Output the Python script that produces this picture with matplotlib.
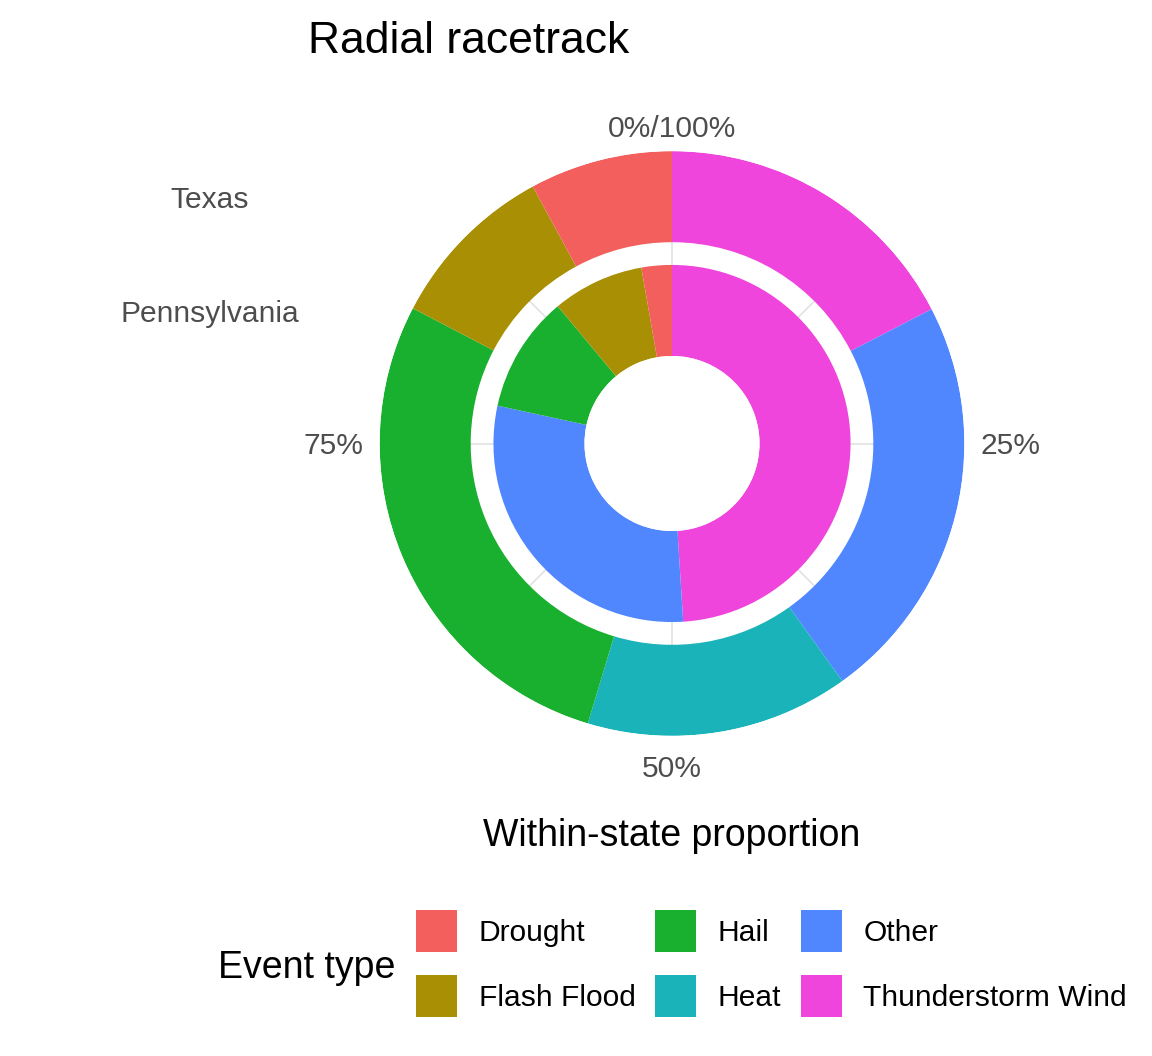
import numpy as np
import matplotlib
matplotlib.use("Agg")
import matplotlib.pyplot as plt
from matplotlib.patches import Patch
from matplotlib.transforms import offset_copy

plt.rcParams['font.family'] = ['Liberation Sans', 'DejaVu Sans']

# data: within-state share of events (%), stacked clockwise from 12 o'clock
event_types = ["Drought", "Flash Flood", "Hail", "Heat", "Other", "Thunderstorm Wind"]
stack_order = ["Thunderstorm Wind", "Other", "Heat", "Hail", "Flash Flood", "Drought"]
states = ["Pennsylvania", "Texas"]
texas = {"Thunderstorm Wind": 17.4, "Other": 22.7, "Heat": 14.55,
         "Hail": 28.0, "Flash Flood": 9.45, "Drought": 7.9}
pennsylvania = {"Thunderstorm Wind": 49.0, "Other": 29.4, "Heat": 0.0,
                "Hail": 10.55, "Flash Flood": 8.3, "Drought": 2.75}
theta_breaks = [0, 25, 50, 75]
theta_labels = ["0%/100%", "25%", "50%", "75%"]

colors = {"Drought": "#F35F5D", "Flash Flood": "#A88F04", "Hail": "#19B02F",
          "Heat": "#19B3B9", "Other": "#5087FE", "Thunderstorm Wind": "#EF45DC"}

W, H = 1152, 1056
fig = plt.figure(figsize=(W / 100, H / 100), dpi=100)

# polar panel geometry (pixels)
cx, cy = 672, 443.5
px_per_unit = 113.8
r0 = -0.169
rmax = 2.4
R = (rmax - r0) * px_per_unit
ax = fig.add_axes([(cx - R) / W, (H - cy - R) / H, 2 * R / W, 2 * R / H],
                  projection='polar')
ax.set_theta_zero_location('N')
ax.set_theta_direction(-1)
ax.set_rorigin(r0)
ax.set_ylim(0.6, rmax)

bar_w = 0.8
for pos, shares in zip([1, 2], [pennsylvania, texas]):
    vals = np.array([shares[k] for k in stack_order])
    starts = np.concatenate([[0], np.cumsum(vals)[:-1]])
    for k, s, v in zip(stack_order, starts, vals):
        if v <= 0:
            continue
        ax.bar(np.deg2rad(s * 3.6), bar_w, width=np.deg2rad(v * 3.6),
               bottom=pos - bar_w / 2, align='edge', color=colors[k],
               linewidth=0, zorder=2)

ax.set_xticks(np.deg2rad(np.arange(0, 360, 45)))
ax.set_xticklabels([])
ax.set_yticks([])
ax.xaxis.grid(True, color='#E4E4E4', linewidth=1.3)
ax.yaxis.grid(False)
ax.set_axisbelow(True)
ax.set_frame_on(False)
ax.tick_params(length=0)

# theta labels
r_lab = r0 + 309 / px_per_unit
lab_tr = offset_copy(ax.transData, fig=fig, x=0, y=-2.5, units='dots')
aligns = [('center', 'baseline'), ('left', 'center'), ('center', 'top'), ('right', 'center')]
for b, lab, (ha, va) in zip(theta_breaks, theta_labels, aligns):
    ax.text(np.deg2rad(b * 3.6), r_lab, lab, ha=ha, va=va, fontsize=21.6,
            color='#4D4D4D', clip_on=False, transform=lab_tr)

# state labels on the left, at the radial position of each ring
dy = 3.5
for pos, st in zip([1, 2], states):
    y_px = cy - (pos - r0) * px_per_unit + dy
    fig.text(210 / W, 1 - y_px / H, st, ha='center', va='center',
             fontsize=21.6, color='#4D4D4D')

fig.text(308 / W, 1 - (38 + dy) / H, "Radial racetrack", ha='left', va='center', fontsize=32)
fig.text(672 / W, 1 - (832 + dy) / H, "Within-state proportion", ha='center', va='center', fontsize=27)
fig.text(218 / W, 1 - (965 + dy) / H, "Event type", ha='left', va='center', fontsize=27)

handles = [Patch(facecolor=colors[k], edgecolor='none', label=k) for k in event_types]
fig.legend(handles=handles, ncol=3, loc='upper left',
           bbox_to_anchor=(416 / W, 1 - 910 / H), frameon=False, fontsize=21.6,
           handlelength=1.37, handleheight=1.777, handletextpad=0.72,
           labelspacing=0.767, columnspacing=0.65, borderpad=0, borderaxespad=0)

fig.savefig("out.png", dpi=100, facecolor='white')
